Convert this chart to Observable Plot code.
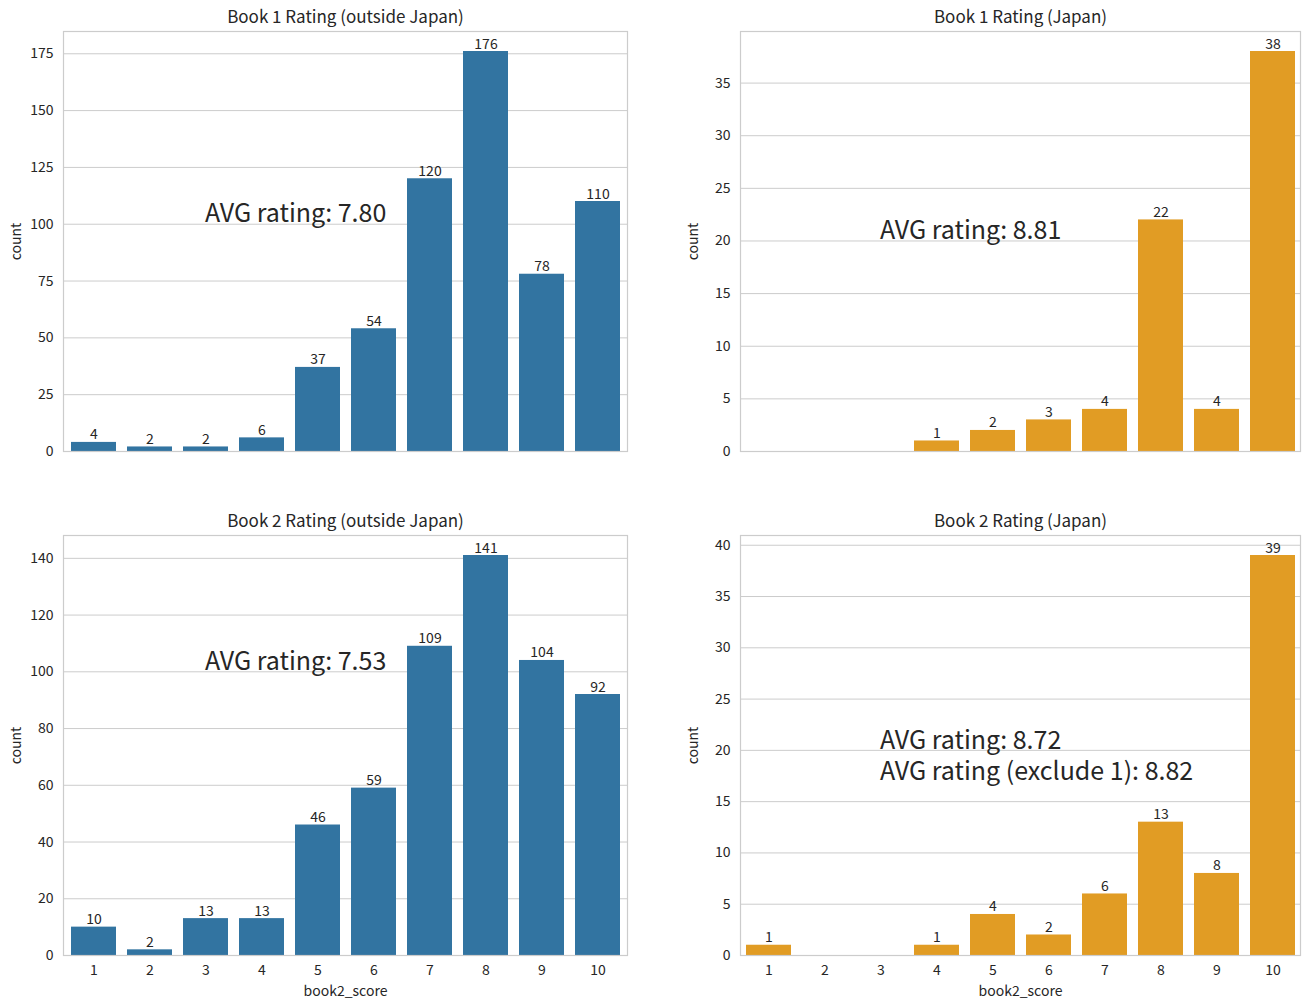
<!DOCTYPE html>
<html><head><meta charset="utf-8">
<script src="https://cdn.jsdelivr.net/npm/d3@7"></script>
<script src="https://cdn.jsdelivr.net/npm/@observablehq/plot@0.6"></script>
<style>
body{margin:0;background:#fff;font-family:"Noto Sans CJK JP","Noto Sans",sans-serif;}
#wrap{position:relative;width:1312px;height:1008px;overflow:hidden;}
.panel{position:absolute;}
</style></head><body><div id="wrap"></div>
<script>
const scores = ["1","2","3","4","5","6","7","8","9","10"];
const book1Outside = [4,2,2,6,37,54,120,176,78,110];
const book1Japan   = [0,0,0,1,2,3,4,22,4,38];
const book2Outside = [10,2,13,13,46,59,109,141,104,92];
const book2Japan   = [1,0,0,1,4,2,6,13,8,39];

const ticksB1Out = [0,25,50,75,100,125,150,175];
const ticksB1Jp  = [0,5,10,15,20,25,30,35];
const ticksB2Out = [0,20,40,60,80,100,120,140];
const ticksB2Jp  = [0,5,10,15,20,25,30,35,40];

const annB1Out = [{x:"3", y:100, text:"AVG rating: 7.80"}];
const annB1Jp  = [{x:"3", y:20,  text:"AVG rating: 8.81"}];
const annB2Out = [{x:"3", y:100, text:"AVG rating: 7.53"}];
const annB2Jp  = [{x:"3", y:20,  text:"AVG rating: 8.72\nAVG rating (exclude 1): 8.82"}];

const titles = ["Book 1 Rating (outside Japan)","Book 1 Rating (Japan)","Book 2 Rating (outside Japan)","Book 2 Rating (Japan)"];
const blue = "#3274a1", orange = "#e19c24";
const ink = "#262626", grid = "#cccccc";
const FONT = '"Noto Sans CJK JP","Noto Sans",sans-serif';

function panel({title, counts, color, ticks, annots, showX, left, top, width, height, mL, mR, mT, mB}) {
  const data = scores.map((s,i)=>({score:s, count:counts[i]})).filter(d=>d.count>0);
  const ymax = d3.max(counts)*1.05;
  const marks = [
    Plot.gridY(ticks, {stroke: grid, strokeOpacity: 1, strokeWidth: 1}),
    Plot.barY(data, {x:"score", y:"count", fill: color}),
    Plot.frame({stroke: grid, strokeWidth: 1.2}),
    Plot.axisY(ticks, {tickSize:0, tickPadding:10, label:"count", labelAnchor:"center", labelOffset: 52, labelArrow:"none", fontSize: 14, fill: ink}),
    Plot.text(data, {x:"score", y:"count", text: d=>String(d.count), lineAnchor:"bottom", dy:-3, fontSize:14, fill: ink}),
    Plot.text(annots, {x:"x", y:"y", text:"text", textAnchor:"start", lineAnchor:"top", dy:-24, fontSize:25, lineHeight:1.25, fill: ink, dx:-1}),
    Plot.text([title], {text: d=>d, frameAnchor:"top", dy:-14, fontSize:17, fill: ink, lineAnchor:"middle"})
  ];
  if (showX) marks.push(Plot.axisX({tickSize:0, tickPadding:10, label:"book2_score", labelAnchor:"center", labelOffset:40, fontSize:14, fill: ink, labelArrow:"none"}));
  else marks.push(Plot.axisX({ticks: [], label: null}));
  const chart = Plot.plot({
    width, height, marginLeft:mL, marginRight:mR, marginTop:mT, marginBottom:mB,
    style:{fontFamily: FONT, fontSize:"14px", color: ink, background:"#fff", overflow:"visible"},
    x:{type:"band", domain: scores, paddingInner:0.2, paddingOuter:0.1, align:0.5},
    y:{domain:[0, ymax], label: "count"},
    marks
  });
  chart.classList.add("panel");
  chart.style.left = left+"px"; chart.style.top = top+"px";
  document.getElementById("wrap").appendChild(chart);
}

panel({title:titles[0], counts:book1Outside, color:blue, ticks:ticksB1Out, annots:annB1Out, showX:false,
  left:0, top:0, width:656, height:504, mL:63, mR:29, mT:31, mB:53});
panel({title:titles[1], counts:book1Japan, color:orange, ticks:ticksB1Jp, annots:annB1Jp, showX:false,
  left:656, top:0, width:656, height:504, mL:84, mR:12, mT:31, mB:53});
panel({title:titles[2], counts:book2Outside, color:blue, ticks:ticksB2Out, annots:annB2Out, showX:true,
  left:0, top:504, width:656, height:504, mL:63, mR:29, mT:31, mB:53});
panel({title:titles[3], counts:book2Japan, color:orange, ticks:ticksB2Jp, annots:annB2Jp, showX:true,
  left:656, top:504, width:656, height:504, mL:84, mR:12, mT:31, mB:53});
</script>
</body></html>
